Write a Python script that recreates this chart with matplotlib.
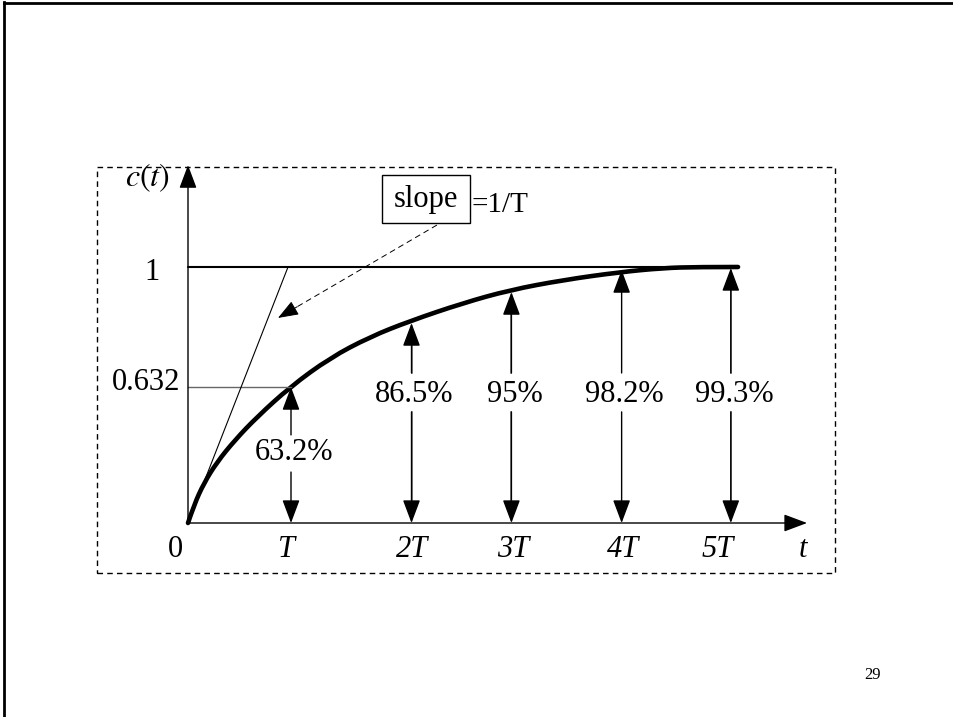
import matplotlib
matplotlib.use('Agg')
import matplotlib.pyplot as plt
from matplotlib.patches import Rectangle, PathPatch
from matplotlib.path import Path
from matplotlib.lines import Line2D

plt.rcParams['font.family'] = ['Liberation Serif', 'DejaVu Serif']

# tick marks on the t axis (drawn positions, in units of the first T step)
tick_labels = ['0', 'T', '2T', '3T', '4T', '5T']
tick_pos = [0.0, 1.00, 2.17, 3.14, 4.21, 5.27]

# response value reached at each T, as drawn (1 = final value line)
pct_labels = ['63.2%', '86.5%', '95%', '98.2%', '99.3%']
curve_at_tick = [0.531, 0.781, 0.902, 0.988, 0.996]

# points read along the drawn curve c(t)
curve_t = [0.0, 0.058, 0.155, 0.282, 0.456, 0.670, 0.990, 1.379, 1.767, 2.155,
           2.670, 3.126, 3.641, 4.194, 4.612, 4.942, 5.340]
curve_c = [0.0, 0.070, 0.156, 0.238, 0.324, 0.414, 0.531, 0.645, 0.727, 0.789,
           0.859, 0.910, 0.949, 0.980, 0.996, 1.0, 1.0]

y_labels = ['1', '0.632']
y_label_pos = [1.0, 0.531]

# tangent at t=0 reaches the final value here
tangent_end = 0.971

W, H = 954, 717
x0, y0, sx, sy = 188, 523, 103, 256   # origin pixel and pixels per unit

fig = plt.figure(figsize=(W / 100, H / 100), dpi=100)
ax = fig.add_axes([0, 0, 1, 1])
ax.set_xlim(-x0 / sx, (W - x0) / sx)
ax.set_ylim(-(H - y0) / sy, y0 / sy)
ax.axis('off')

head = dict(arrowstyle='-|>,head_length=0.8,head_width=0.3', mutation_scale=18,
            shrinkA=0, shrinkB=0)
head_len = 20 / sy   # arrow head length in y units


def varrow(x, y_from, y_to, shaft):
    ax.annotate('', xy=(x, y_to), xytext=(x, y_from),
                arrowprops=dict(color='black', lw=1.0, **head))
    if shaft != 'black':
        d = 1 if y_to > y_from else -1
        ax.plot([x, x], [y_from, y_to - d * head_len], color=shaft, lw=1.1)


# axes
ax.annotate('', xy=(0, 1.398), xytext=(0, 0),
            arrowprops=dict(color='black', lw=1.0, **head))
ax.annotate('', xy=(6.01, 0), xytext=(0, 0),
            arrowprops=dict(color='black', lw=1.0, **head))

# final value line and 0.632 line
ax.plot([0, curve_t[-1]], [1, 1], color='black', lw=1.5, solid_capstyle='round')
ax.plot([0, tick_pos[1]], [curve_at_tick[0]] * 2, color='#666666', lw=1.0)

# tangent
ax.plot([0, tangent_end], [0, 1], color='black', lw=0.8)

# response curve, smoothed through the read points
pts = list(zip(curve_t, curve_c))
verts = [pts[0]]
codes = [Path.MOVETO]
for i in range(1, len(pts) - 1):
    nxt = pts[i + 1] if i == len(pts) - 2 else ((pts[i][0] + pts[i + 1][0]) / 2,
                                                (pts[i][1] + pts[i + 1][1]) / 2)
    verts += [pts[i], nxt]
    codes += [Path.CURVE3, Path.CURVE3]
ax.add_patch(PathPatch(Path(verts, codes), fill=False, lw=3.3, edgecolor='black',
                       capstyle='round'))

# y labels
ax.text(-0.35, y_label_pos[0] - 0.02, y_labels[0], fontsize=22, ha='center', va='center')
ax.text(-0.078, y_label_pos[1] + 0.016, y_labels[1], fontsize=22, ha='right', va='center')
ax.text(-0.39, 1.35, r'$c(t)$', fontsize=23, ha='center', va='center',
        math_fontfamily='stix')

# tick labels
tick_text_x = [-0.126, 0.961, 2.175, 3.155, 4.223, 5.146]
for lab, tx in zip(tick_labels, tick_text_x):
    ax.text(tx, -0.105, lab, fontsize=22, ha='center', va='center',
            fontstyle='italic' if lab != '0' else 'normal')
ax.text(5.97, -0.105, 't', fontsize=22, ha='center', va='center', fontstyle='italic')

# percentage arrows
shaft_cols = ['black', '#666666', '#666666', 'black', '#666666']
for i, (lab, c) in enumerate(zip(pct_labels, curve_at_tick)):
    xp = tick_pos[i + 1]
    if i == 0:
        up_from, down_from, ly = 0.344, 0.199, 0.277
    else:
        up_from, down_from, ly = 0.586, 0.434, 0.5
    varrow(xp, up_from, c, shaft_cols[i])
    varrow(xp, down_from, 0, shaft_cols[i])
    ax.text(xp + 0.03, ly, lab, fontsize=22, ha='center', va='center')

# slope note
ax.add_patch(Rectangle((1.883, 1.172), 0.855, 0.187, fill=False, lw=1.0,
                       edgecolor='black'))
ax.text(2.31, 1.262, 'slope', fontsize=22, ha='center', va='center')
ax.text(2.757, 1.242, '=1/T', fontsize=21, ha='left', va='center')
p_from, p_to = (2.417, 1.164), (0.874, 0.801)
f = 0.12
p_mid = (p_to[0] + f * (p_from[0] - p_to[0]), p_to[1] + f * (p_from[1] - p_to[1]))
ax.plot([p_from[0], p_mid[0]], [p_from[1], p_mid[1]], color='black', lw=0.7,
        linestyle=(0, (6, 4)))
ax.annotate('', xy=p_to, xytext=p_mid,
            arrowprops=dict(color='black', lw=0.7,
                            arrowstyle='-|>,head_length=0.8,head_width=0.3',
                            mutation_scale=16, shrinkA=0, shrinkB=0))

# dashed frame around the diagram
fig.add_artist(Rectangle((97 / W, 1 - 573 / H), (835 - 97) / W, (573 - 167) / H,
                         transform=fig.transFigure, fill=False, lw=1.0,
                         linestyle=(0, (4, 3)), edgecolor='black'))

# slide border (left and top)
fig.add_artist(Line2D([4 / W, 4 / W], [0, 1 - 2 / H], transform=fig.transFigure,
                      color='black', lw=2.0))
fig.add_artist(Line2D([4 / W, 1], [1 - 2.5 / H, 1 - 2.5 / H], transform=fig.transFigure,
                      color='black', lw=2.0))

# page number
fig.text(873 / W, 1 - 675 / H, '29', fontsize=12, ha='center', va='center')

fig.savefig('out.png', dpi=100)
